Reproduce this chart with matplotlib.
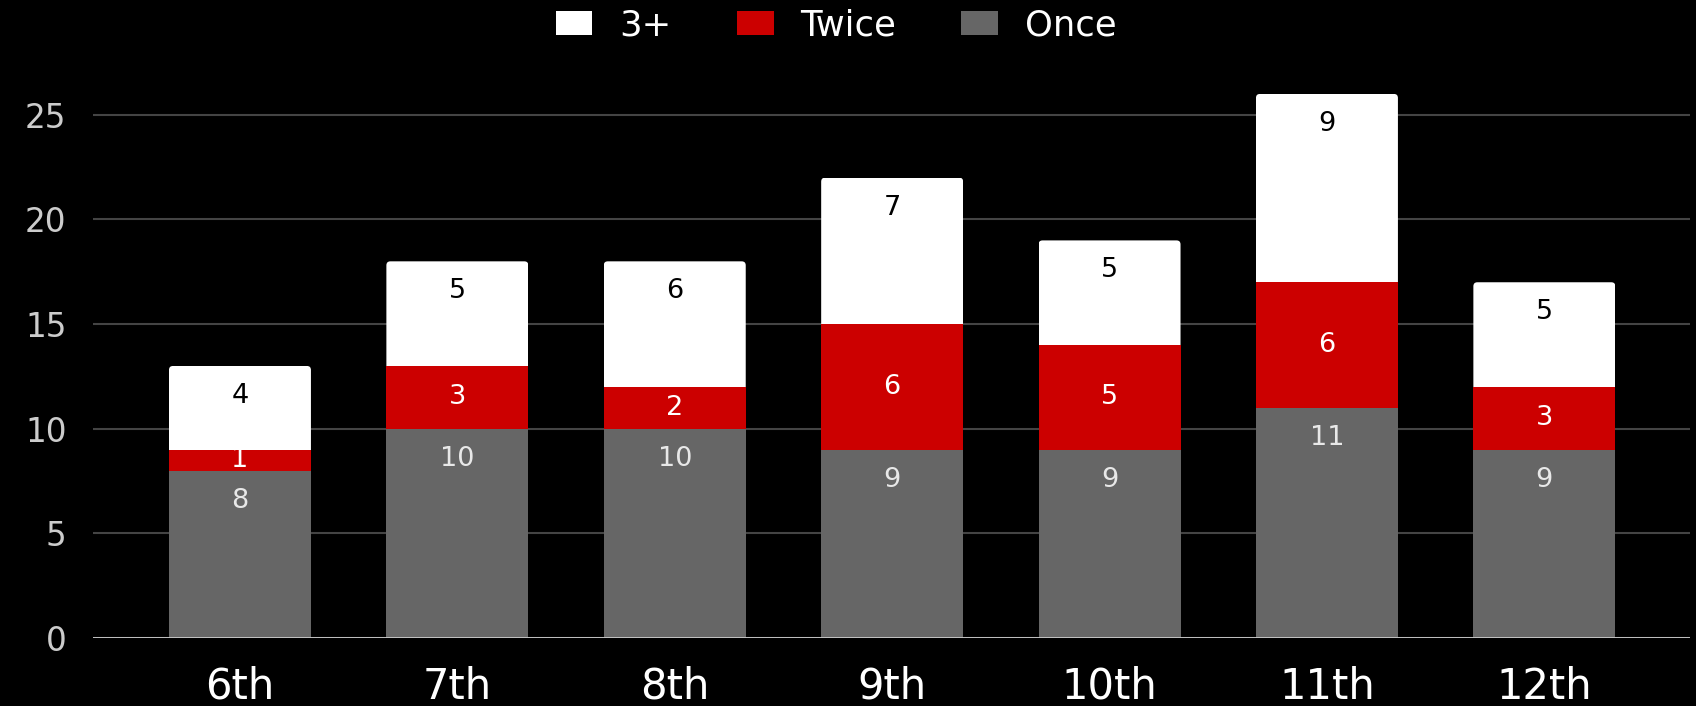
import matplotlib.pyplot as plt
from matplotlib.patches import FancyBboxPatch

# Data
grades = ["6th", "7th", "8th", "9th", "10th", "11th", "12th"]
once = [8, 10, 10, 9, 9, 11, 9]
twice = [1, 3, 2, 6, 5, 6, 3]
three_plus = [4, 5, 6, 7, 5, 9, 5]

c_once = "#666666"
c_twice = "#cc0000"
c_three = "#ffffff"

plt.rcParams['font.family'] = ['DejaVu Sans']

fig = plt.figure(figsize=(16.96, 7.06), dpi=100, facecolor="black")
ax = fig.add_axes([93 / 1696, 68 / 706, (1690 - 93) / 1696, 565 / 706])
ax.set_facecolor("black")

x = list(range(len(grades)))
w = 0.653
xlim = (-0.676, 6.670)
ylim = (0, 27)
ax.set_xlim(*xlim)
ax.set_ylim(*ylim)

bottom2 = once
bottom3 = [a + b for a, b in zip(once, twice)]

b1 = ax.bar(x, once, w, color=c_once, label="Once", zorder=3)
b2 = ax.bar(x, twice, w, bottom=bottom2, color=c_twice, label="Twice", zorder=3)
b3 = ax.bar(x, three_plus, w, bottom=bottom3, color=c_three, label="3+", zorder=3)

# rounded top corners on the top segment
px_x = (1690 - 93) / (xlim[1] - xlim[0])
px_y = 565 / (ylim[1] - ylim[0])
r = 4 / px_x
for rect in b3:
    clip = FancyBboxPatch((rect.get_x(), rect.get_y() - 1), rect.get_width(), rect.get_height() + 1,
                          boxstyle=f"round,pad=0,rounding_size={r}",
                          mutation_aspect=px_x / px_y, transform=ax.transData,
                          facecolor="none", edgecolor="none")
    rect.set_clip_path(clip)

# value labels
for i in x:
    ax.annotate(str(once[i]), (i, once[i]), xytext=(0, -21.6), textcoords="offset points",
                ha="center", va="center", fontsize=19.5, color="#e8e8e8", zorder=4)
    ax.text(i, bottom2[i] + twice[i] / 2, str(twice[i]), ha="center", va="center",
            fontsize=19.5, color="white", zorder=4)
    ax.annotate(str(three_plus[i]), (i, bottom3[i] + three_plus[i]), xytext=(0, -21.6),
                textcoords="offset points", ha="center", va="center", fontsize=19.5,
                color="black", zorder=4)

# axes styling
for s in ax.spines.values():
    s.set_visible(False)
ax.axhline(0, color="#cccccc", lw=2, zorder=4)
ax.set_yticks([0, 5, 10, 15, 20, 25])
ax.grid(axis="y", color="#444444", lw=1.5, zorder=0)
ax.tick_params(axis="y", length=0, pad=19, labelsize=23.5, labelcolor="#cccccc")
ax.set_xticks(x)
ax.set_xticklabels(grades)
ax.tick_params(axis="x", length=0, pad=20, labelsize=30, labelcolor="white")

fig.legend(handles=[b3, b2, b1], labels=["3+", "Twice", "Once"], loc="upper center",
           bbox_to_anchor=(836 / 1696, 1.033), ncol=3, frameon=False, fontsize=25.5,
           labelcolor="white", handlelength=1.04, handleheight=0.67, handletextpad=0.75,
           columnspacing=1.85)

fig.savefig("out.png", dpi=100, facecolor="black")
